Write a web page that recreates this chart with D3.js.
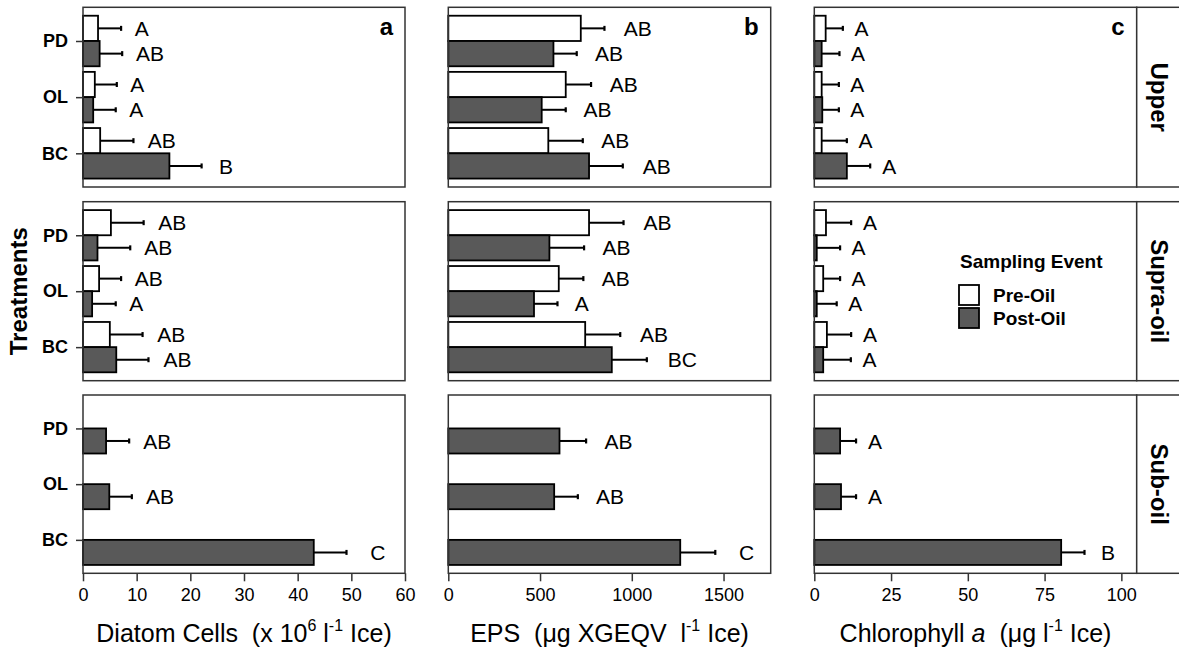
<!DOCTYPE html>
<html>
<head>
<meta charset="utf-8">
<script src="https://d3js.org/d3.v7.min.js"></script>
<style>
body { margin: 0; background: white; }
svg text { font-family: "Liberation Sans", Arial, sans-serif; fill: black; }
</style>
</head>
<body>
<svg id="chart" width="1179" height="653"></svg>
<script>
// categories
var treatments = ["PD", "OL", "BC"];
var layers = ["Upper", "Supra-oil", "Sub-oil"];
var events = ["Pre-Oil", "Post-Oil"];
var tags = ["a", "b", "c"];

// diatom cells (x 10^6 l-1 Ice), rows = layers, cols = treatments
var diatomPre     = [[2.8, 2.2, 3.2], [5.2, 3.0, 5.0], [null, null, null]];
var diatomPreSE   = [[4.3, 4.1, 6.2], [6.1, 4.1, 6.1], [null, null, null]];
var diatomPreLet  = [["A", "A", "AB"], ["AB", "AB", "AB"], [null, null, null]];
var diatomPost    = [[3.1, 1.9, 16.1], [2.7, 1.7, 6.2], [4.3, 4.9, 43.0]];
var diatomPostSE  = [[4.2, 4.2, 6.0], [6.1, 4.4, 6.0], [4.3, 4.2, 6.1]];
var diatomPostLet = [["AB", "A", "B"], ["AB", "A", "AB"], ["AB", "AB", "C"]];
var diatomTicks   = [0, 10, 20, 30, 40, 50, 60];

// EPS (ug XGEQV l-1 Ice)
var epsPre     = [[722, 640, 545], [767, 602, 746], [null, null, null]];
var epsPreSE   = [[129, 138, 188], [188, 134, 191], [null, null, null]];
var epsPreLet  = [["AB", "AB", "AB"], ["AB", "AB", "AB"], [null, null, null]];
var epsPost    = [[573, 509, 767], [551, 467, 891], [606, 577, 1264]];
var epsPostSE  = [[127, 131, 184], [189, 128, 191], [145, 129, 191]];
var epsPostLet = [["AB", "AB", "AB"], ["AB", "A", "BC"], ["AB", "AB", "C"]];
var epsTicks   = [0, 500, 1000, 1500];

// chlorophyll a (ug l-1 Ice)
var chlPre     = [[3.7, 2.4, 2.4], [3.8, 2.9, 4.1], [null, null, null]];
var chlPreSE   = [[5.6, 5.6, 8.2], [8.2, 5.5, 7.9], [null, null, null]];
var chlPreLet  = [["A", "A", "A"], ["A", "A", "A"], [null, null, null]];
var chlPost    = [[2.4, 2.6, 10.6], [0.8, 0.8, 2.9], [8.4, 8.7, 80.4]];
var chlPostSE  = [[5.8, 5.4, 7.6], [7.6, 6.5, 9.0], [5.2, 4.9, 7.6]];
var chlPostLet = [["A", "A", "A"], ["A", "A", "A"], ["A", "A", "B"]];
var chlTicks   = [0, 25, 50, 75, 100];

var panels = [
  {pre: diatomPre, preSE: diatomPreSE, preLet: diatomPreLet, post: diatomPost, postSE: diatomPostSE, postLet: diatomPostLet, ticks: diatomTicks, max: 60, gap: [12, 0.045]},
  {pre: epsPre, preSE: epsPreSE, preLet: epsPreLet, post: epsPost, postSE: epsPostSE, postLet: epsPostLet, ticks: epsTicks, max: 1757, gap: [13, 0.04]},
  {pre: chlPre, preSE: chlPreSE, preLet: chlPreLet, post: chlPost, postSE: chlPostSE, postLet: chlPostLet, ticks: chlTicks, max: 105, gap: [11, 0.02]}
];

// layout
var colX = [[83, 405], [448.3, 770.7], [814.3, 1136.7]];
var rowY = [[7.3, 187], [201.7, 380.7], [395, 573.3]];
var stripW = 48;
var darkFill = "#595959";
var borderCol = "#333333";

var svg = d3.select("#chart");

panels.forEach(function(p, c) {
  var x = d3.scaleLinear().domain([0, p.max]).range(colX[c]);

  layers.forEach(function(layer, r) {
    var y = d3.scalePoint().domain(treatments).range(rowY[r]).padding(0.6);
    var bw = y.step() * 0.45;

    var recs = [];
    treatments.forEach(function(t, i) {
      if (p.pre[r][i] != null)
        recs.push({t: t, ev: events[0], v: p.pre[r][i], se: p.preSE[r][i], lab: p.preLet[r][i], y0: y(t) - bw});
      if (p.post[r][i] != null)
        recs.push({t: t, ev: events[1], v: p.post[r][i], se: p.postSE[r][i], lab: p.postLet[r][i], y0: y(t)});
    });

    var g = svg.append("g");

    // error bars
    g.selectAll("line.err")
      .data(recs).enter().append("line")
      .attr("x1", function(d) { return x(d.v); })
      .attr("x2", function(d) { return x(d.v + d.se); })
      .attr("y1", function(d) { return d.y0 + bw / 2; })
      .attr("y2", function(d) { return d.y0 + bw / 2; })
      .attr("stroke", "black").attr("stroke-width", 2);
    g.selectAll("line.cap")
      .data(recs).enter().append("line")
      .attr("x1", function(d) { return x(d.v + d.se); })
      .attr("x2", function(d) { return x(d.v + d.se); })
      .attr("y1", function(d) { return d.y0 + bw / 2 - 2.5; })
      .attr("y2", function(d) { return d.y0 + bw / 2 + 2.5; })
      .attr("stroke", "black").attr("stroke-width", 2.2);

    // bars
    g.selectAll("rect.bar")
      .data(recs).enter().append("rect")
      .attr("x", x(0))
      .attr("y", function(d) { return d.y0; })
      .attr("width", function(d) { return x(d.v) - x(0); })
      .attr("height", bw)
      .attr("fill", function(d) { return d.ev === "Pre-Oil" ? "white" : darkFill; })
      .attr("stroke", "black").attr("stroke-width", 1.8);

    // letters
    g.selectAll("text.lab")
      .data(recs).enter().append("text")
      .attr("x", function(d) {
        var e = x(d.v + d.se);
        return e + p.gap[0] + p.gap[1] * (e - x(0));
      })
      .attr("y", function(d) { return d.y0 + bw / 2; })
      .attr("dy", "0.36em")
      .style("font-size", "21px")
      .text(function(d) { return d.lab; });

    // panel border
    svg.append("rect")
      .attr("x", colX[c][0]).attr("y", rowY[r][0])
      .attr("width", colX[c][1] - colX[c][0]).attr("height", rowY[r][1] - rowY[r][0])
      .attr("fill", "none").attr("stroke", borderCol).attr("stroke-width", 1.5);

    // y axis only on first column
    if (c === 0) {
      var ya = svg.append("g")
        .attr("transform", "translate(" + colX[0][0] + ",0)")
        .call(d3.axisLeft(y).tickSize(7).tickPadding(8));
      ya.select(".domain").remove();
      ya.selectAll(".tick line").attr("stroke", borderCol).attr("stroke-width", 1.5);
      ya.selectAll(".tick text").style("font-size", "18px").style("font-weight", "bold");
    }

    // x axis only on bottom row
    if (r === layers.length - 1) {
      var xa = svg.append("g")
        .attr("transform", "translate(0," + rowY[r][1] + ")")
        .call(d3.axisBottom(x).tickValues(p.ticks).tickSize(8).tickPadding(7).tickFormat(d3.format("d")));
      xa.select(".domain").remove();
      xa.selectAll(".tick line").attr("stroke", borderCol).attr("stroke-width", 1.5);
      xa.selectAll(".tick text").style("font-size", "18px");
    }

    // facet strip on the right
    if (c === panels.length - 1) {
      svg.append("rect")
        .attr("x", colX[c][1]).attr("y", rowY[r][0])
        .attr("width", stripW).attr("height", rowY[r][1] - rowY[r][0])
        .attr("fill", "white").attr("stroke", borderCol).attr("stroke-width", 1.5);
      svg.append("text")
        .attr("transform", "translate(" + (colX[c][1] + 23) + "," + ((rowY[r][0] + rowY[r][1]) / 2) + ") rotate(90)")
        .attr("text-anchor", "middle")
        .attr("dy", "0.36em")
        .style("font-size", "24px").style("font-weight", "bold")
        .text(layer);
    }
  });

  // panel tag
  svg.append("text")
    .attr("x", colX[c][1] - 12).attr("y", 35)
    .attr("text-anchor", "end")
    .style("font-size", "24px").style("font-weight", "bold")
    .text(tags[c]);
});

// x axis titles
function axisTitle(c, parts) {
  var t = svg.append("text")
    .attr("x", (colX[c][0] + colX[c][1]) / 2).attr("y", 642)
    .attr("text-anchor", "middle")
    .style("font-size", "25px")
    .style("white-space", "pre");
  var shift = 0;
  parts.forEach(function(pt) {
    var s = t.append("tspan").text(pt.s);
    if (pt.sup) {
      s.style("font-size", "16px").attr("dy", -11);
      shift = 11;
    } else if (shift) {
      s.attr("dy", shift);
      shift = 0;
    }
    if (pt.it) s.style("font-style", "italic");
  });
}
axisTitle(0, [{s: "Diatom Cells  (x 10"}, {s: "6", sup: true}, {s: " l"}, {s: "-1", sup: true}, {s: " Ice)"}]);
axisTitle(1, [{s: "EPS  (\u03bcg XGEQV  l"}, {s: "-1", sup: true}, {s: " Ice)"}]);
axisTitle(2, [{s: "Chlorophyll "}, {s: "a", it: true}, {s: "  (\u03bcg l"}, {s: "-1", sup: true}, {s: " Ice)"}]);

// y title
svg.append("text")
  .attr("transform", "translate(27," + ((rowY[1][0] + rowY[1][1]) / 2) + ") rotate(-90)")
  .attr("text-anchor", "middle")
  .style("font-size", "24px").style("font-weight", "bold")
  .text("Treatments");

// legend
var leg = svg.append("g").attr("transform", "translate(958,268)");
leg.append("text").attr("x", 2).attr("y", 0)
  .style("font-size", "19px").style("font-weight", "bold")
  .text("Sampling Event");
events.forEach(function(ev, i) {
  leg.append("rect")
    .attr("x", 1).attr("y", 17 + i * 23)
    .attr("width", 20).attr("height", 20)
    .attr("fill", i === 0 ? "white" : darkFill)
    .attr("stroke", "black").attr("stroke-width", 1.8);
  leg.append("text").attr("x", 35).attr("y", 34 + i * 23)
    .style("font-size", "19px").style("font-weight", "bold")
    .text(ev);
});
</script>
</body>
</html>
